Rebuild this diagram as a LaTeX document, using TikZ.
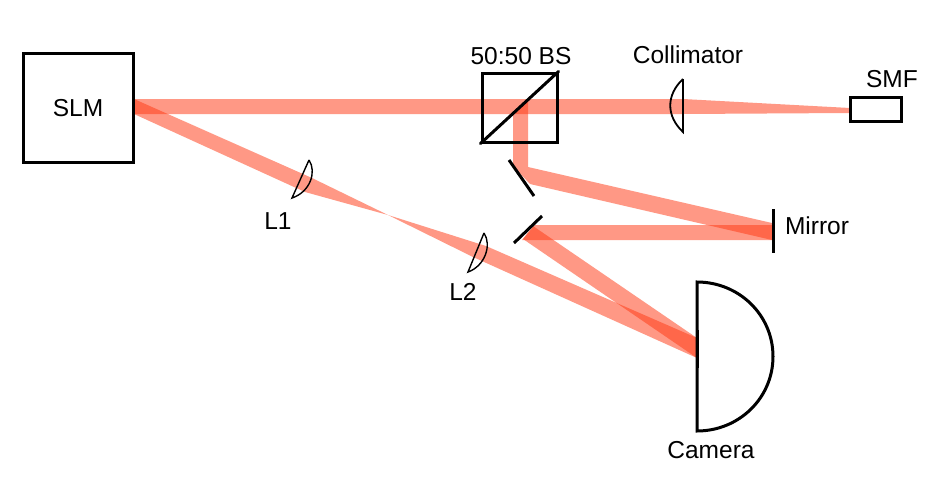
\documentclass[tikz,border=0pt]{standalone}
\usepackage{fontspec}
\setmainfont{Liberation Sans}
\definecolor{beamred}{HTML}{FF3A15}
\tikzset{
  beam/.style={fill=beamred, fill opacity=0.52, draw=none},
  optic/.style={draw, line width=3pt, inner sep=0pt},
  lens/.style={draw, line width=1.4pt},
  mirror/.style={draw, line width=3pt},
  label/.style={font=\fontsize{24.5}{27}\selectfont, inner sep=0pt}
}
\begin{document}
\begin{tikzpicture}[x=1pt,y=-1pt]
        \useasboundingbox (0,0) rectangle (930,485);
        % beams
        \fill [beam] (134,99) -- (683,99) -- (850,108) -- (850,113) -- (683,114) -- (134,114) -- cycle;
        \fill [beam] (134,99) -- (312,178) -- (388,215) -- (305,192) -- (134,114) -- cycle;
        \fill [beam] (388,215) -- (486,246) -- (697,338) -- (697,358) -- (473,257) -- cycle;
        \fill [beam] (528,100) -- (528,167) -- (772,223) -- (772,240) -- (530,184) -- (513,166) -- (513,114) -- cycle;
        \fill [beam] (535,225) -- (772,225) -- (772,240) -- (522,240) -- cycle;
        \fill [beam] (533,226) -- (697,338) -- (697,358) -- (523,239) -- cycle;
        % boxes
        \node [optic, minimum width=110pt, minimum height=109pt] (slm) at (78,107.5) {};
        \node [label] (slm_text) at (78,108) {SLM};
        \node [optic, minimum width=75pt, minimum height=69pt] (bs) at (519.5,107.5) {};
        \node [label] (bs_text) at (521,56) {50:50 BS};
        \draw [optic, line cap=round] (bs.south west) -- (bs.north east);
        \node [optic, minimum width=51pt, minimum height=24pt] (smf) at (875.5,109) {};
        \node [label] (smf_text) at (892,79) {SMF};
        % lenses
        \draw [lens] (309,160) -- (292,198) .. controls (310,192) and (317,172) .. (309,160);
        \node [label] (l1) at (278,221) {L1};
        \draw [lens] (484,233) -- (468,272) .. controls (485,266) and (492,245) .. (484,233);
        \node [label] (l2) at (463,292) {L2};
        \draw [lens, line width=1.8pt] (683,79) -- (683,132) .. controls (666,116) and (666,95) .. (683,79);
        \node [label] (coll) at (688,55) {Collimator};
        % mirrors
        \draw [mirror] (509,160) -- (534,196);
        \draw [mirror] (514,243) -- (542,216);
        \draw [mirror] (773,209) -- (773,253);
        \node [label] (mirr) at (817,226) {Mirror};
        % camera
        \draw [mirror] (697,282) .. controls (739,282) and (773,315) .. (773,356.5)
          .. controls (773,398) and (739,431) .. (697,431) -- cycle;
        \draw [mirror] (697,330) -- (697,368);
        \node [label] (cam) at (711,450) {Camera};
\end{tikzpicture}
\end{document}
